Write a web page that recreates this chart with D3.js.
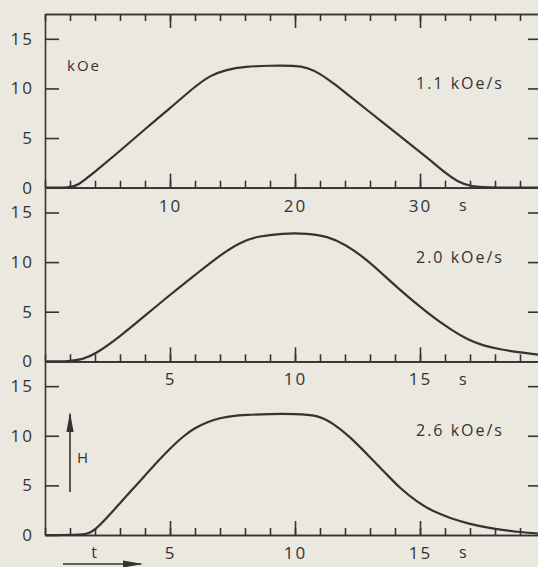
<!DOCTYPE html>
<html>
<head>
<meta charset="utf-8">
<script src="https://cdn.jsdelivr.net/npm/d3@7"></script>
<style>
  body { margin: 0; background: #ebe8e0; }
  svg { display: block; }
  text { font-family: "Open Sans", sans-serif; font-weight: 400; fill: #333; letter-spacing: 2px; }
</style>
</head>
<body>
<div id="chart"></div>
<script>
// field H (kOe) vs time t (s), three sweep rates
const rateLabels = ["1.1 kOe/s", "2.0 kOe/s", "2.6 kOe/s"];

const t1 = [0, 2, 2.6, 4, 6, 8, 10, 12, 13.2, 14.5, 16, 18, 20, 21, 22, 23.2, 24, 26, 28, 30, 31, 32, 33, 34, 36, 40];
const h1 = [0, 0, 0.2, 1.6, 3.7, 5.9, 8.0, 10.2, 11.3, 11.9, 12.2, 12.3, 12.3, 12.1, 11.5, 10.4, 9.6, 7.6, 5.6, 3.6, 2.6, 1.5, 0.6, 0.1, 0, 0];

const t2 = [0, 1, 1.5, 2, 3, 4, 5, 6, 7, 7.8, 8.5, 9.5, 10.5, 11.3, 12, 12.9, 13.5, 14.2, 15, 15.6, 16.3, 16.9, 17.5, 18.2, 19, 20];
const h2 = [0, 0, 0.2, 0.7, 2.5, 4.6, 6.7, 8.7, 10.7, 12.0, 12.6, 12.9, 12.9, 12.6, 11.8, 10.2, 8.8, 7.2, 5.5, 4.3, 3.1, 2.2, 1.6, 1.2, 0.9, 0.6];

const t3 = [0, 1.3, 1.7, 2, 2.5, 3, 3.5, 4, 4.5, 5, 5.5, 6, 6.5, 7, 7.5, 8, 9, 10, 10.9, 11.5, 12.2, 12.9, 13.6, 14.2, 14.9, 15.5, 16.2, 17, 17.6, 18.3, 18.9, 20];
const h3 = [0, 0, 0.1, 0.5, 1.8, 3.2, 4.6, 6.0, 7.4, 8.7, 9.9, 10.8, 11.4, 11.8, 12.0, 12.1, 12.2, 12.2, 12.1, 11.3, 9.9, 8.1, 6.3, 4.7, 3.3, 2.4, 1.7, 1.1, 0.8, 0.5, 0.3, 0.1];

const timeMax = [40, 20, 20];
const majorTicks = [[10, 20, 30], [5, 10, 15], [5, 10, 15]];
const minorStep = [2, 1, 1];
const yTickValues = [0, 5, 10, 15];
const yMax = 17.5;

const W = 538, H = 567;
const m = { left: 45, right: 545, top: 14, bottom: 535 };
const panelH = (m.bottom - m.top) / 3;
const ink = "#333";

const svg = d3.select("#chart").append("svg").attr("width", W).attr("height", H);

const series = [[t1, h1], [t2, h2], [t3, h3]];

series.forEach(([ts, hs], i) => {
  const y0 = m.top + i * panelH;
  const x = d3.scaleLinear().domain([0, timeMax[i]]).range([m.left, m.right]);
  const y = d3.scaleLinear().domain([0, yMax]).range([y0 + panelH, y0]);
  const g = svg.append("g");

  // left axis with labels, ticks pointing inwards
  g.append("g")
    .attr("transform", `translate(${m.left},0)`)
    .call(d3.axisLeft(y).tickValues(yTickValues).tickSize(-14).tickSizeOuter(0).tickPadding(11).tickFormat(d3.format("d")));
  // right axis
  g.append("g")
    .attr("transform", `translate(${m.right},0)`)
    .call(d3.axisRight(y).tickValues(yTickValues.slice(1)).tickSize(-17).tickSizeOuter(0).tickFormat(""));

  // bottom axis: minor and major ticks
  const minor = d3.range(0, timeMax[i] + 0.001, minorStep[i]);
  g.append("g")
    .attr("transform", `translate(0,${y0 + panelH})`)
    .call(d3.axisBottom(x).tickValues(minor).tickSize(-7).tickSizeOuter(0).tickFormat(""));
  const maj = g.append("g")
    .attr("transform", `translate(0,${y0 + panelH})`)
    .call(d3.axisBottom(x).tickValues(majorTicks[i]).tickSize(-14).tickSizeOuter(0).tickPadding(12).tickFormat(d3.format("d")));
  maj.append("text")
    .attr("x", x(timeMax[i] * 0.8375))
    .attr("y", 12).attr("dy", "0.71em")
    .attr("text-anchor", "middle")
    .style("font-size", "16px")
    .text("s");

  if (i === 0) {
    g.append("g")
      .attr("transform", `translate(0,${y0})`)
      .call(d3.axisTop(x).tickValues(minor).tickSize(-7).tickSizeOuter(0).tickFormat(""));
    g.append("g")
      .attr("transform", `translate(0,${y0})`)
      .call(d3.axisTop(x).tickValues(majorTicks[i]).tickSize(-14).tickSizeOuter(0).tickFormat(""));
    g.append("text").attr("x", 67).attr("y", y(12.3)).attr("dy", "0.35em").style("font-size", "15px").text("kOe");
  }

  g.selectAll(".domain, .tick line").attr("stroke", ink).attr("stroke-width", 1.6);
  g.selectAll(".tick text").style("font-size", "17px").attr("fill", ink);

  const line = d3.line().x((d, k) => x(ts[k])).y(d => y(d)).curve(d3.curveBasis);
  g.append("path")
    .attr("d", line(hs))
    .attr("fill", "none")
    .attr("stroke", ink)
    .attr("stroke-width", 2.2);

  g.append("text")
    .attr("x", 416)
    .attr("y", y(10.5))
    .attr("dy", "0.35em")
    .style("font-size", "16px")
    .text(rateLabels[i]);
});

// remove default axis font so the CSS font applies
svg.selectAll("g[font-family]").attr("font-family", null).attr("font-size", null);

// arrows for H and t
svg.append("defs").append("marker").attr("id", "ah").attr("viewBox", "0 0 10 10")
  .attr("refX", 9).attr("refY", 5).attr("markerWidth", 20).attr("markerHeight", 9)
  .attr("markerUnits", "userSpaceOnUse").attr("orient", "auto").attr("preserveAspectRatio", "none")
  .append("path").attr("d", "M0,1 L10,5 L0,9 Z").attr("fill", ink);

svg.append("line").attr("x1", 70).attr("y1", 492).attr("x2", 70).attr("y2", 414)
  .attr("stroke", ink).attr("stroke-width", 1.6).attr("marker-end", "url(#ah)");
svg.append("text").attr("x", 77).attr("y", 458).attr("dy", "0.35em").style("font-size", "15px").text("H");
svg.append("line").attr("x1", 63).attr("y1", 564).attr("x2", 141).attr("y2", 564)
  .attr("stroke", ink).attr("stroke-width", 1.6).attr("marker-end", "url(#ah)");
svg.append("text").attr("x", 95).attr("y", 552).attr("dy", "0.35em").attr("text-anchor", "middle").style("font-size", "16px").text("t");
</script>
</body>
</html>
